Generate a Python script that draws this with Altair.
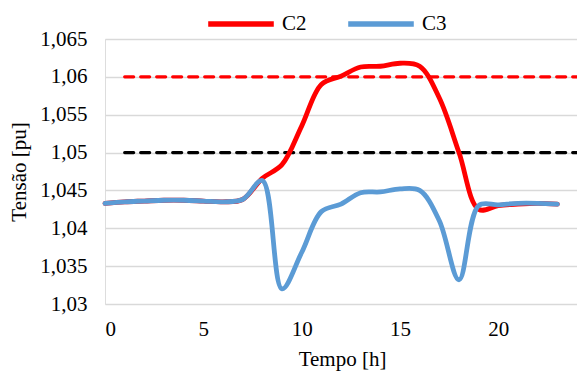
import altair as alt
import pandas as pd

hours = list(range(24))
c2 = [1.0433, 1.0435, 1.0436, 1.0437, 1.0437, 1.0436, 1.0435, 1.0438,
      1.0466, 1.0484, 1.0535, 1.0590, 1.0601, 1.0613, 1.0614, 1.0618,
      1.0614, 1.0572, 1.0500, 1.0425, 1.0430, 1.0432, 1.0433, 1.0432]
c3 = [1.0433, 1.0435, 1.0436, 1.0437, 1.0437, 1.0436, 1.0435, 1.0438,
      1.0463, 1.0320, 1.0368, 1.0422, 1.0432, 1.0447, 1.0448, 1.0452,
      1.0450, 1.0410, 1.0332, 1.0430, 1.0431, 1.0433, 1.0433, 1.0432]
series = ["C2", "C3"]
colors = ["#FF0000", "#5B9BD5"]

limit_x = [1, 24]
limit_red = 1.06
limit_black = 1.05

rows = []
for s, vals in zip(series, [c2, c3]):
    for h, v in zip(hours, vals):
        rows.append({"Tempo": h, "Tensao": v, "Serie": s})
df = pd.DataFrame(rows)

lim_df = pd.DataFrame({
    "Tempo": limit_x + limit_x,
    "Tensao": [limit_red, limit_red, limit_black, limit_black],
    "Lim": ["r", "r", "k", "k"],
})

FONT = "Liberation Serif"
yticks = [1.03, 1.035, 1.04, 1.045, 1.05, 1.055, 1.06, 1.065]

xenc = alt.X("Tempo:Q",
             scale=alt.Scale(domain=[0, 24], nice=False, zero=False),
             axis=alt.Axis(values=[0, 5, 10, 15, 20], grid=False, ticks=False,
                           domain=False, labelPadding=14,
                           title="Tempo [h]",
                           titleX=237, titleY=61, titleBaseline="alphabetic",
                           titleAnchor="start", titleAlign="center"))
yenc = alt.Y("Tensao:Q",
             scale=alt.Scale(domain=[1.03, 1.065], nice=False, zero=False),
             axis=alt.Axis(values=yticks, grid=True, gridColor="#D9D9D9",
                           gridWidth=1.3, ticks=False, domain=False,
                           labelPadding=18,
                           labelExpr="replace(format(datum.value, '.3~f'), '.', ',')",
                           title="Tensão [pu]", titlePadding=10))

limits = alt.Chart(lim_df).mark_line(strokeWidth=3.2, strokeDash=[9, 7],
                                     strokeCap="round").encode(
    x=xenc, y=yenc,
    detail="Lim:N",
    color=alt.Color("Lim:N", scale=alt.Scale(domain=["r", "k"],
                                             range=["#FF0000", "#000000"]),
                    legend=None),
)

lines = alt.Chart(df).mark_line(strokeWidth=4.8, interpolate="catmull-rom",
                                strokeCap="round").encode(
    x=xenc, y=yenc,
    color=alt.Color("Serie:N", scale=alt.Scale(domain=series, range=colors),
                    legend=alt.Legend(title=None, orient="none", legendX=100,
                                      legendY=-51, direction="horizontal",
                                      symbolType="stroke", symbolSize=4300,
                                      symbolStrokeWidth=5.5,
                                      labelOffset=5, columnPadding=30)),
    order=alt.Order("Serie:N"),
)

chart = alt.layer(limits, lines).resolve_scale(color="independent").properties(
    width=472, height=265,
    autosize=alt.AutoSizeParams(type="none"),
    padding={"left": 105, "top": 39, "right": 0, "bottom": 67},
).configure_view(stroke=None).configure(
    background="#FFFFFF", font=FONT
).configure_axis(
    labelFont=FONT, labelFontSize=21, labelColor="#000000",
    titleFont=FONT, titleFontSize=21, titleFontWeight="normal",
    titleColor="#000000",
).configure_legend(
    labelFont=FONT, labelFontSize=21, labelColor="#000000",
)

chart.save("out.html", embed_options={"renderer": "svg", "actions": False})
